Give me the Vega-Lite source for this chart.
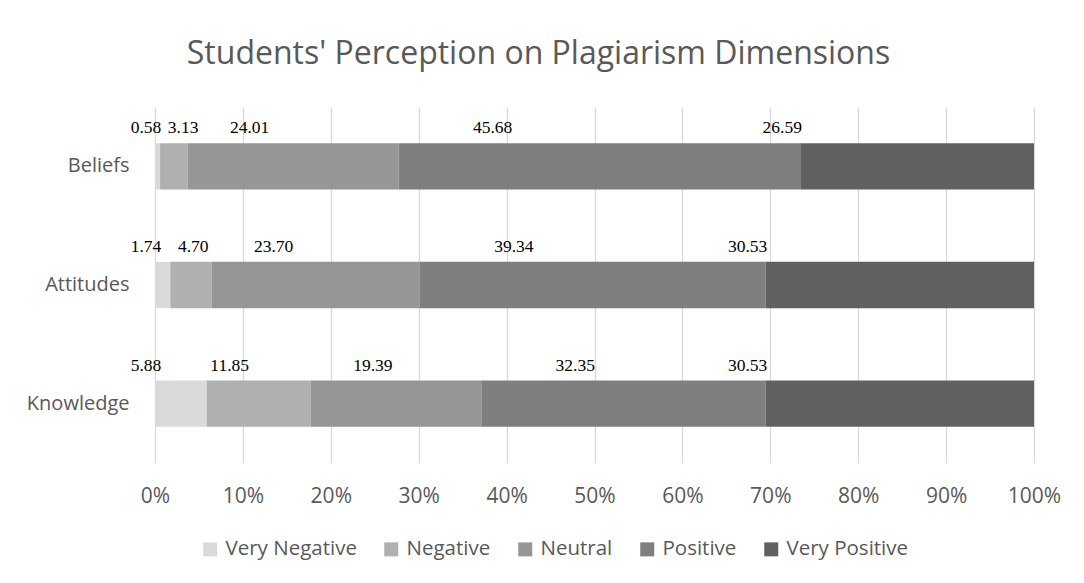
{
  "$schema": "https://vega.github.io/schema/vega-lite/v6.json",
  "width": 879,
  "height": 356,
  "autosize": "none",
  "padding": {"left": 155, "top": 107, "right": 50, "bottom": 120},
  "background": "white",
  "config": {"view": {"stroke": null}},
  "title": {"text": "Students' Perception on Plagiarism Dimensions", "font": "Open Sans", "fontSize": 32, "fontWeight": "normal", "color": "#595959", "anchor": "middle", "dx": -56, "offset": 36},
  "data": {"values": [
    {"dimension": "Beliefs", "category": "Very Negative", "order": 1, "value": 0.58},
    {"dimension": "Beliefs", "category": "Negative", "order": 2, "value": 3.13},
    {"dimension": "Beliefs", "category": "Neutral", "order": 3, "value": 24.01},
    {"dimension": "Beliefs", "category": "Positive", "order": 4, "value": 45.68},
    {"dimension": "Beliefs", "category": "Very Positive", "order": 5, "value": 26.59},
    {"dimension": "Attitudes", "category": "Very Negative", "order": 1, "value": 1.74},
    {"dimension": "Attitudes", "category": "Negative", "order": 2, "value": 4.70},
    {"dimension": "Attitudes", "category": "Neutral", "order": 3, "value": 23.70},
    {"dimension": "Attitudes", "category": "Positive", "order": 4, "value": 39.34},
    {"dimension": "Attitudes", "category": "Very Positive", "order": 5, "value": 30.53},
    {"dimension": "Knowledge", "category": "Very Negative", "order": 1, "value": 5.88},
    {"dimension": "Knowledge", "category": "Negative", "order": 2, "value": 11.85},
    {"dimension": "Knowledge", "category": "Neutral", "order": 3, "value": 19.39},
    {"dimension": "Knowledge", "category": "Positive", "order": 4, "value": 32.35},
    {"dimension": "Knowledge", "category": "Very Positive", "order": 5, "value": 30.53}
  ]},
  "transform": [
    {"stack": "value", "groupby": ["dimension"], "offset": "normalize", "sort": [{"field": "order", "order": "ascending"}], "as": ["x0", "x1"]}
  ],
  "encoding": {
    "y": {"field": "dimension", "type": "nominal", "sort": ["Beliefs", "Attitudes", "Knowledge"],
      "scale": {"paddingInner": 0.61, "paddingOuter": 0.305},
      "axis": {"title": null, "domain": false, "ticks": false, "labelFont": "Open Sans", "labelFontSize": 20, "labelColor": "#595959", "labelPadding": 26}}
  },
  "layer": [
    {
      "mark": {"type": "bar"},
      "encoding": {
        "x": {"field": "x0", "type": "quantitative", "scale": {"domain": [0, 1]},
          "axis": {"values": [0, 0.1, 0.2, 0.3, 0.4, 0.5, 0.6, 0.7, 0.8, 0.9, 1], "format": ".0%", "grid": true, "gridColor": "#d9d9d9", "gridWidth": 1.3, "domain": false, "ticks": false, "labelFlush": false, "labelFont": "Open Sans", "labelFontSize": 21, "labelColor": "#595959", "labelPadding": 22, "title": null}},
        "x2": {"field": "x1"},
        "color": {"field": "category", "type": "nominal",
          "scale": {"domain": ["Very Negative", "Negative", "Neutral", "Positive", "Very Positive"], "range": ["#dadada", "#b0b0b0", "#969696", "#7f7f7f", "#606060"]},
          "legend": {"orient": "none", "legendX": 45, "legendY": 432, "direction": "horizontal", "title": null, "symbolType": "square", "symbolSize": 196, "symbolStrokeWidth": 0, "labelFont": "Open Sans", "labelFontSize": 20.5, "labelColor": "#595959", "columnPadding": 24, "labelOffset": 5}}
      }
    },
    {
      "transform": [{"filter": "datum.category === 'Very Negative'"}],
      "mark": {"type": "text", "align": "center", "baseline": "alphabetic", "dx": -9, "dy": -33, "font": "Liberation Serif", "fontSize": 17.5, "color": "black"},
      "encoding": {"x": {"field": "x0", "type": "quantitative"}, "text": {"field": "value", "type": "quantitative", "format": ".2f"}}
    },
    {
      "transform": [{"filter": "datum.category === 'Negative'"}],
      "mark": {"type": "text", "align": "center", "baseline": "alphabetic", "dx": 23, "dy": -33, "font": "Liberation Serif", "fontSize": 17.5, "color": "black"},
      "encoding": {"x": {"field": "x0", "type": "quantitative"}, "text": {"field": "value", "type": "quantitative", "format": ".2f"}}
    },
    {
      "transform": [{"filter": "datum.category === 'Neutral'"}],
      "mark": {"type": "text", "align": "center", "baseline": "alphabetic", "dx": 62, "dy": -33, "font": "Liberation Serif", "fontSize": 17.5, "color": "black"},
      "encoding": {"x": {"field": "x0", "type": "quantitative"}, "text": {"field": "value", "type": "quantitative", "format": ".2f"}}
    },
    {
      "transform": [{"filter": "datum.category === 'Positive'"}],
      "mark": {"type": "text", "align": "center", "baseline": "alphabetic", "dx": 94, "dy": -33, "font": "Liberation Serif", "fontSize": 17.5, "color": "black"},
      "encoding": {"x": {"field": "x0", "type": "quantitative"}, "text": {"field": "value", "type": "quantitative", "format": ".2f"}}
    },
    {
      "transform": [{"filter": "datum.category === 'Very Positive'"}],
      "mark": {"type": "text", "align": "center", "baseline": "alphabetic", "dx": -18, "dy": -33, "font": "Liberation Serif", "fontSize": 17.5, "color": "black"},
      "encoding": {"x": {"field": "x0", "type": "quantitative"}, "text": {"field": "value", "type": "quantitative", "format": ".2f"}}
    }
  ]
}
